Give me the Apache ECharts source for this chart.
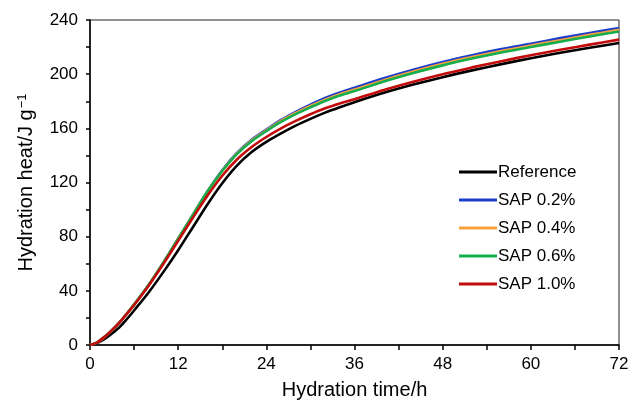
<!DOCTYPE html>
<html>
<head>
<meta charset="utf-8">
<script src="https://cdn.jsdelivr.net/npm/echarts@6/dist/echarts.min.js"></script>
<style>
  html, body { margin: 0; padding: 0; background: #fff; }
  #heat { width: 630px; height: 403px; }
</style>
</head>
<body>
<div id="heat"></div>
<script>
// hydration time (h)
const hours = [0, 1, 2, 3, 4, 5, 6, 8, 10, 12, 14, 16, 18, 20, 22, 24, 26, 28, 30, 32, 34, 36, 40, 44, 48, 52, 56, 60, 64, 68, 72];

// cumulative hydration heat (J/g)
const reference = [0, 1.5, 4.5, 8.5, 13, 19, 25.5, 39, 54, 70, 87, 104, 119.5, 132.5, 142.5, 150, 156.3, 162, 167, 171.6, 175.6, 179.3, 186.2, 192.3, 197.8, 202.8, 207.4, 211.8, 215.8, 219.5, 223];
const sap02 = [0, 2, 6, 11, 16.5, 23, 29.8, 44.5, 61, 78.5, 96, 113.5, 129, 141.8, 151.5, 159, 166.2, 172.2, 177.5, 182.4, 186.5, 190, 197, 203.3, 209, 214, 218.5, 222.5, 226.6, 230.4, 234];
const sap04 = [0, 2, 6, 11, 16.5, 23, 29.8, 44.5, 61, 78.5, 96, 113.5, 128.5, 141.3, 151, 158.5, 165.5, 171.3, 176.5, 181.2, 185.2, 188.6, 195.6, 201.9, 207.6, 212.6, 217.1, 221.1, 225.1, 229, 232.8];
const sap06 = [0, 2, 6, 11, 16.5, 23, 29.8, 44.5, 61, 78.5, 96, 113.5, 128.5, 141, 150.5, 158, 164.8, 170.5, 175.5, 180.2, 184.2, 187.5, 194.5, 200.8, 206.5, 211.5, 216, 220, 224, 227.8, 231.5];
const sap10 = [0, 2, 6, 11, 16.5, 23, 29.5, 44, 60, 77, 94, 110.4, 125, 137, 146.2, 153.6, 160, 165.5, 170.4, 174.8, 178.4, 181.5, 188.3, 194.4, 200, 205, 209.6, 214, 218, 221.8, 225.5];

const names = ['Reference', 'SAP 0.2%', 'SAP 0.4%', 'SAP 0.6%', 'SAP 1.0%'];
const colors = ['#000000', '#1b3fcc', '#f7a13e', '#16ad4c', '#c40b0b'];
const values = [reference, sap02, sap04, sap06, sap10];

const xTicks = [0, 12, 24, 36, 48, 60, 72];
const yTicks = [0, 40, 80, 120, 160, 200, 240];

function pairs(arr) {
  return hours.map((h, i) => [h, arr[i]]);
}

const font = 'Liberation Sans, Arial, Helvetica, sans-serif';

let option = {
  animation: false,
  backgroundColor: '#fff',
  grid: {
    left: 90,
    right: 11,
    top: 20,
    bottom: 58,
    outerBoundsMode: 'none',
    show: true,
    borderColor: '#222',
    borderWidth: 1
  },
  legend: {
    orient: 'vertical',
    left: 454,
    top: 158,
    itemWidth: 38,
    itemHeight: 3,
    itemGap: 10,
    icon: 'rect',
    data: names,
    textStyle: { fontFamily: font, fontSize: 17, color: '#000', lineHeight: 18, padding: [0, 0, 0, -4] }
  },
  xAxis: {
    type: 'value',
    min: 0,
    max: 72,
    interval: 12,
    name: 'Hydration time/h',
    nameLocation: 'middle',
    nameGap: 35,
    nameTextStyle: { fontFamily: font, fontSize: 20, color: '#000' },
    axisLine: { lineStyle: { color: '#000', width: 1.5 } },
    axisTick: { show: true, length: 5, lineStyle: { color: '#000', width: 1.5 } },
    minorTick: { show: true, splitNumber: 2, length: 5, lineStyle: { color: '#000', width: 1.5 } },
    splitLine: { show: false },
    axisLabel: {
      margin: 11,
      fontFamily: font,
      fontSize: 17,
      color: '#000',
      formatter: (v) => xTicks.includes(v) ? String(v) : ''
    }
  },
  yAxis: {
    type: 'value',
    min: 0,
    max: 240,
    interval: 40,
    name: '{a|Hydration heat/J g}{s|−1}',
    nameLocation: 'middle',
    nameGap: 53,
    nameTextStyle: {
      fontFamily: font,
      fontSize: 20,
      color: '#000',
      rich: {
        a: { fontFamily: font, fontSize: 20, color: '#000' },
        s: { fontFamily: font, fontSize: 13, color: '#000', verticalAlign: 'top', padding: [0, 0, 8, 1] }
      }
    },
    axisLine: { lineStyle: { color: '#000', width: 1.5 } },
    axisTick: { show: true, length: 4, lineStyle: { color: '#000', width: 1.5 } },
    minorTick: { show: true, splitNumber: 2, length: 4, lineStyle: { color: '#000', width: 1.5 } },
    splitLine: { show: false },
    axisLabel: {
      margin: 12,
      fontFamily: font,
      fontSize: 17,
      color: '#000',
      formatter: (v) => yTicks.includes(v) ? String(v) : ''
    }
  },
  series: names.map((n, i) => ({
    name: n,
    type: 'line',
    data: pairs(values[i]),
    smooth: 0.3,
    symbol: 'none',
    color: colors[i],
    lineStyle: { color: colors[i], width: 2.6 }
  }))
};

echarts.init(document.getElementById('heat')).setOption(option);
</script>
</body>
</html>
